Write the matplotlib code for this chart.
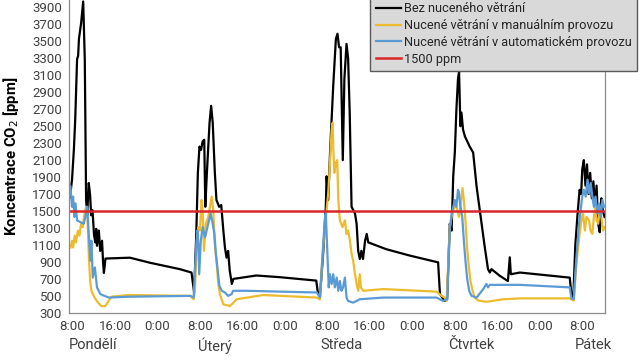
import matplotlib
matplotlib.use("Agg")
import matplotlib.pyplot as plt
from matplotlib.transforms import blended_transform_factory

plt.rcParams["font.family"] = ["Roboto", "DejaVu Sans"]

# hours counted from Monday 0:00, CO2 in ppm
bez_vetrani = [
    (7.5, 1660), (7.9, 1870), (8.25, 2230), (8.5, 2580), (8.85, 3290), (9.05, 3330),
    (9.2, 3530), (9.6, 3710), (10.0, 3970), (10.3, 3290), (10.45, 2230), (10.55, 1630),
    (10.75, 1450), (11.05, 1830), (11.3, 1690), (11.5, 1450), (11.75, 1510), (12.05, 1210),
    (12.3, 1130), (12.45, 1290), (12.6, 1090), (12.95, 1270), (13.2, 1030), (13.55, 1150),
    (13.75, 890), (13.9, 770), (14.2, 940), (18.8, 950), (22.6, 890), (28.2, 815),
    (30.4, 775), (30.9, 540),
    (31.3, 1230), (31.6, 1950), (31.9, 2260), (32.2, 2220), (32.5, 2320), (32.8, 2340),
    (33.0, 1550), (33.3, 1950), (33.8, 2540), (34.1, 2740), (34.4, 2540), (34.8, 1950),
    (35.1, 1630), (35.6, 1550), (36.0, 1570), (36.4, 1270), (36.7, 1070), (37.0, 950),
    (37.3, 1030), (37.6, 800), (38.0, 640), (38.3, 700), (42.6, 740), (47.1, 720),
    (53.9, 680), (54.2, 540),
    (54.6, 500), (55.2, 1000), (55.7, 1550), (55.85, 1910), (56.15, 1630), (56.5, 2190),
    (57.1, 2980), (57.6, 3530), (57.9, 3590), (58.2, 3430), (58.5, 3430), (58.9, 2100),
    (59.2, 3060), (59.6, 3470), (59.9, 3300), (60.2, 2660), (60.55, 1550), (61.2, 1470),
    (61.5, 1350), (61.8, 1030), (62.1, 935), (62.4, 1030), (62.7, 935), (63.1, 1150),
    (63.4, 1230), (63.7, 1130), (67.1, 1050), (71.5, 975), (76.85, 895),
    (77.2, 520), (78.1, 440), (78.55, 460), (79.05, 1350), (79.4, 1270), (79.7, 1910),
    (80.0, 2190), (80.3, 2700), (80.6, 3060), (80.8, 3140), (81.05, 2500), (81.25, 2660),
    (81.55, 2460), (81.9, 2380), (82.8, 2260), (83.45, 2190), (84.1, 1790), (84.7, 1510),
    (85.65, 1070), (86.25, 815), (86.6, 775), (86.9, 815), (88.5, 735), (90.0, 675),
    (90.35, 955), (90.55, 755), (92.25, 775), (101.65, 715), (101.95, 520), (102.3, 460),
    (102.7, 1100), (103.1, 1450), (103.5, 1750), (103.8, 1700), (104.0, 1990), (104.3, 2100),
    (104.6, 1800), (104.9, 2050), (105.2, 1700), (105.5, 1950), (105.8, 1650), (106.1, 1850),
    (106.4, 1560), (106.7, 1800), (107.0, 1350), (107.3, 1250), (107.6, 1650), (107.9, 1500),
    (108.2, 1430),
]

manualni = [
    (7.6, 1070), (7.9, 1150), (8.1, 1070), (8.4, 1210), (8.65, 1130), (9.0, 1270),
    (9.3, 1210), (9.6, 1350), (9.9, 1310), (10.2, 1450), (10.55, 1550), (10.8, 1430),
    (11.05, 995), (11.3, 680), (11.55, 560), (12.15, 480), (12.8, 420), (13.4, 380),
    (14.15, 380), (14.8, 440), (15.3, 490), (18.6, 510), (30.2, 500), (30.8, 460),
    (31.05, 560), (31.4, 1150), (31.7, 1310), (32.0, 1270), (32.3, 1630), (32.5, 1510),
    (32.75, 1030), (33.1, 1350), (33.55, 1430), (34.2, 1670), (34.5, 1510), (34.8, 1110),
    (35.15, 875), (35.45, 640), (35.75, 520), (36.4, 400), (37.65, 380), (38.9, 460),
    (43.9, 510), (54.0, 480), (54.6, 460),
    (55.1, 995), (55.55, 1310), (55.85, 1510), (56.15, 1710), (56.45, 2030), (56.8, 2460),
    (57.0, 2540), (57.1, 2260), (57.3, 1950), (57.6, 2070), (57.85, 2100), (58.05, 1630),
    (58.35, 1390), (58.85, 1310), (59.3, 1390), (59.6, 1230), (59.9, 1270), (60.25, 1150),
    (60.55, 995), (60.85, 915), (61.2, 755), (61.5, 640), (61.8, 560), (62.1, 755),
    (62.3, 600), (62.75, 560), (66.5, 580), (76.55, 550), (77.5, 500), (78.1, 480),
    (78.45, 440),
    (79.05, 1310), (79.4, 1430), (79.7, 1510), (80.2, 1590), (80.45, 1510), (80.8, 1430),
    (81.05, 1550), (81.45, 1770), (81.7, 1630), (82.0, 1390), (82.3, 1075), (82.65, 835),
    (82.95, 675), (83.35, 560), (83.75, 480), (84.4, 445), (85.95, 430), (89.1, 460),
    (92.25, 470), (101.65, 470), (101.95, 460), (102.4, 445),
    (102.9, 875), (103.5, 1230), (103.85, 1390), (104.15, 1470), (104.5, 1270), (104.8, 1430),
    (105.3, 1390), (105.55, 1270), (105.9, 1230), (106.2, 1430), (106.5, 1550), (106.7, 1390),
    (107.0, 1350), (107.3, 1510), (107.6, 1430), (107.9, 1270), (108.2, 1310),
]

automaticky = [
    (7.6, 1790), (7.9, 1550), (8.1, 1670), (8.35, 1430), (8.55, 1590), (8.85, 1390),
    (9.45, 1370), (10.1, 1350), (10.4, 1430), (10.75, 1550), (11.05, 1230), (11.35, 915),
    (11.55, 1150), (11.8, 715), (12.2, 835), (12.6, 600), (13.25, 520), (14.8, 480),
    (18.6, 490), (30.2, 500), (30.8, 480),
    (31.25, 1030), (31.5, 1270), (31.7, 1110), (31.85, 755), (32.15, 1150), (32.5, 1310),
    (32.95, 1190), (33.55, 1350), (34.0, 1470), (34.4, 1350), (34.7, 1230), (35.0, 995),
    (35.35, 795), (35.65, 620), (36.1, 560), (36.7, 540), (37.3, 500), (37.95, 520),
    (38.25, 560), (40.8, 560), (47.05, 550), (54.0, 540), (54.6, 480),
    (55.1, 995), (55.55, 1430), (55.7, 1470), (55.95, 1075), (56.25, 600), (56.45, 755),
    (56.8, 640), (57.1, 755), (57.4, 600), (57.75, 715), (58.05, 560), (58.35, 675),
    (58.65, 560), (58.95, 600), (59.3, 715), (59.6, 480), (59.9, 440), (60.85, 420),
    (62.1, 460), (66.5, 480), (76.55, 480), (77.8, 440),
    (78.55, 460), (79.05, 1270), (79.4, 1470), (79.7, 1550), (80.0, 1630), (80.3, 1550),
    (80.6, 1750), (80.8, 1710), (81.05, 1550), (81.4, 1430), (81.7, 1150), (82.0, 915),
    (82.3, 715), (82.7, 560), (83.15, 500), (84.1, 480), (85.35, 580), (85.95, 640),
    (86.25, 600), (86.6, 630), (89.1, 630), (92.25, 630), (101.65, 600), (101.95, 470),
    (102.4, 460),
    (102.9, 955), (103.4, 1350), (103.7, 1510), (104.0, 1670), (104.3, 1750), (104.65, 1670),
    (105.0, 1870), (105.3, 1710), (105.6, 1830), (105.9, 1670), (106.2, 1550), (106.5, 1670),
    (106.85, 1470), (107.2, 1590), (107.5, 1430), (107.8, 1630), (108.1, 1550),
]

limit_ppm = 1500

tick_hours = list(range(8, 105, 8))
tick_labels = ["8:00", "16:00", "0:00"] * 4 + ["8:00"]
day_names = ["Pondělí", "Úterý", "Středa", "Čtvrtek", "Pátek"]
day_hours = [11.9, 34.9, 58.7, 83.1, 106.1]
y_ticks = list(range(300, 4000, 200))

fig = plt.figure(figsize=(6.4, 3.6), dpi=100)
ax = fig.add_axes([0.108, 0.131, 0.837, 0.872])

series = [
    (bez_vetrani, "#000000", "Bez nuceného větrání"),
    (manualni, "#EDBB2E", "Nucené větrání v manuálním provozu"),
    (automaticky, "#5B9BD5", "Nucené větrání v automatickém provozu"),
]
for data, color, label in series:
    hours = [p[0] for p in data]
    ppm = [p[1] for p in data]
    ax.plot(hours, ppm, color=color, lw=1.6, label=label)
ax.axhline(limit_ppm, color="#D9262B", lw=1.8, label="1500 ppm")

ax.set_xlim(7.35, 108.25)
ax.set_ylim(300, 4000)
ax.set_yticks(y_ticks)
ax.set_xticks(tick_hours)
ax.set_xticklabels(tick_labels)
ax.tick_params(length=0, labelsize=9.5, colors="#404040", pad=5)
for s in ax.spines.values():
    s.set_color("#8c8c8c")
    s.set_linewidth(0.9)

tr = blended_transform_factory(ax.transData, ax.transAxes)
for h, name in zip(day_hours, day_names):
    ax.text(h, -0.104, name, transform=tr, ha="center", va="center",
            fontsize=10.5, color="#404040")

fig.text(11 / 640, 1 - 156 / 360, "Koncentrace CO$_2$ [ppm]", rotation=90,
         ha="center", va="center", fontsize=10.8, fontweight="bold")

leg = fig.legend(loc="upper left", bbox_to_anchor=(0.578, 1.01), fontsize=9.2,
                 frameon=True, fancybox=False, handlelength=2.0, handletextpad=0.2,
                 borderpad=0.45, labelspacing=0.3, borderaxespad=0)
leg.get_frame().set_facecolor("#D9D9D9")
leg.get_frame().set_edgecolor("#595959")
leg.get_frame().set_alpha(1)
for t in leg.get_texts():
    t.set_color("#262626")

fig.savefig("out.png", dpi=100)
